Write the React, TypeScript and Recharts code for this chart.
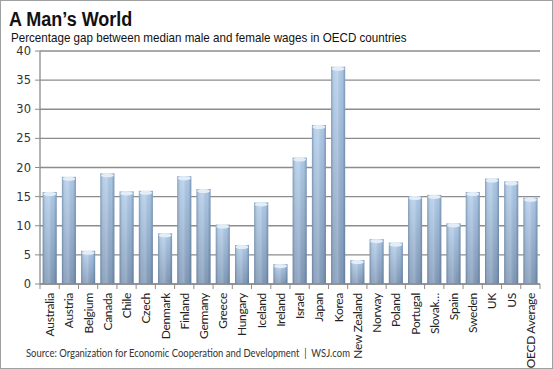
import { BarChart, Bar, XAxis, YAxis, CartesianGrid } from 'recharts'

const countries = [
  'Australia', 'Austria', 'Belgium', 'Canada', 'Chile', 'Czech', 'Denmark',
  'Finland', 'Germany', 'Greece', 'Hungary', 'Iceland', 'Ireland', 'Israel',
  'Japan', 'Korea', 'New Zealand', 'Norway', 'Poland', 'Portugal', 'Slovak…',
  'Spain', 'Sweden', 'UK', 'US', 'OECD Average',
]

const wageGap = [
  15.8, 18.4, 5.7, 19.0, 15.9, 16.0, 8.7,
  18.5, 16.3, 10.2, 6.7, 14.0, 3.4, 21.7,
  27.3, 37.3, 4.1, 7.7, 7.1, 15.1, 15.3,
  10.4, 15.8, 18.1, 17.6, 14.8,
]

const yTicks = [0, 5, 10, 15, 20, 25, 30, 35, 40]

const data = countries.map((name, i) => ({ name, gap: wageGap[i] }))

const GRID = '#8c8c8c'

// cylinder-ish bar like the excel original
function BarShape(props: any) {
  const { x, y, width, height } = props
  if (!height || height <= 0) return null
  const capH = Math.min(3, height / 2)
  return (
    <g>
      <rect x={x} y={y} width={width} height={height} fill="url(#barVert)" />
      <rect x={x} y={y} width={width} height={height} fill="url(#barHorz)" />
      <ellipse cx={x + width / 2} cy={y + capH / 2 + 0.5} rx={width / 2 - 0.5} ry={capH / 2 + 0.5} fill="#e3edf8" />
    </g>
  )
}

function CountryTick(props: any) {
  const { x, y, payload, index } = props
  const half = payload && payload.offset ? payload.offset : 500 / 26 / 2
  return (
    <g>
      <line x1={x - half} y1={y - 8} x2={x - half} y2={y - 3} stroke={GRID} strokeWidth={1} />
      {index === countries.length - 1 && (
        <line x1={x + half} y1={y - 8} x2={x + half} y2={y - 3} stroke={GRID} strokeWidth={1} />
      )}
      <text
        x={x}
        y={y + 1}
        transform={`rotate(-90, ${x}, ${y + 1})`}
        textAnchor="end"
        dominantBaseline="central"
        fontFamily="Lato, 'Open Sans', sans-serif"
        fontSize={12}
        letterSpacing={-0.3}
        fill="#222"
      >
        {payload.value}
      </text>
    </g>
  )
}

export default function App() {
  return (
    <div
      style={{
        position: 'absolute',
        left: 0,
        top: 0,
        width: 551,
        height: 367,
        border: '1px solid #a0a0a0',
        background: '#fff',
        overflow: 'hidden',
      }}
    >
      <div
        style={{
          position: 'absolute',
          left: 8,
          top: 7,
          fontFamily: "'Liberation Sans', Arial, sans-serif",
          fontWeight: 'bold',
          fontSize: 20,
          color: '#111',
          transform: 'scaleX(0.9)',
          transformOrigin: 'left top',
          whiteSpace: 'nowrap',
        }}
      >
        A Man’s World
      </div>
      <div
        style={{
          position: 'absolute',
          left: 10,
          top: 29,
          fontFamily: "'Liberation Sans', Arial, sans-serif",
          fontSize: 13.5,
          color: '#111',
          transform: 'scaleX(0.86)',
          transformOrigin: 'left top',
          whiteSpace: 'nowrap',
        }}
      >
        Percentage gap between median male and female wages in OECD countries
      </div>
      <div style={{ position: 'absolute', left: -1, top: -1 }}>
        <BarChart
          width={553}
          height={369}
          data={data}
          margin={{ top: 51, right: 13, bottom: 0, left: 0 }}
          barCategoryGap="14%"
        >
          <defs>
            <linearGradient id="barVert" x1="0" y1="0" x2="0" y2="1">
              <stop offset="0%" stopColor="#b2cdea" />
              <stop offset="100%" stopColor="#7f98b6" />
            </linearGradient>
            <linearGradient id="barHorz" x1="0" y1="0" x2="1" y2="0">
              <stop offset="0%" stopColor="#3d5878" stopOpacity={0.45} />
              <stop offset="25%" stopColor="#ffffff" stopOpacity={0.12} />
              <stop offset="45%" stopColor="#ffffff" stopOpacity={0.2} />
              <stop offset="80%" stopColor="#3d5878" stopOpacity={0.05} />
              <stop offset="100%" stopColor="#3d5878" stopOpacity={0.45} />
            </linearGradient>
          </defs>
          <CartesianGrid vertical={false} stroke={GRID} strokeWidth={1.3} />
          <YAxis
            type="number"
            domain={[0, 40]}
            ticks={yTicks}
            width={40}
            axisLine={{ stroke: GRID, strokeWidth: 1.3 }}
            tickLine={{ stroke: GRID }}
            tickSize={5}
            tickMargin={4}
            interval={0}
            tick={{ fontFamily: "'DejaVu Sans', Verdana, sans-serif", fontSize: 11.5, fill: '#333' }}
          />
          <XAxis
            dataKey="name"
            height={85}
            interval={0}
            axisLine={{ stroke: GRID, strokeWidth: 1.3 }}
            tickLine={false}
            tick={<CountryTick />}
          />
          <Bar dataKey="gap" shape={<BarShape />} isAnimationActive={false} />
        </BarChart>
      </div>
      <div
        style={{
          position: 'absolute',
          left: 25,
          top: 346,
          fontFamily: "Lato, 'Open Sans', sans-serif",
          fontSize: 10.5,
          color: '#333',
          whiteSpace: 'nowrap',
          transform: 'scaleX(0.9)',
          transformOrigin: 'left top',
        }}
      >
        Source: Organization for Economic Cooperation and Development&nbsp;&nbsp;|&nbsp;&nbsp;WSJ.com
      </div>
    </div>
  )
}
